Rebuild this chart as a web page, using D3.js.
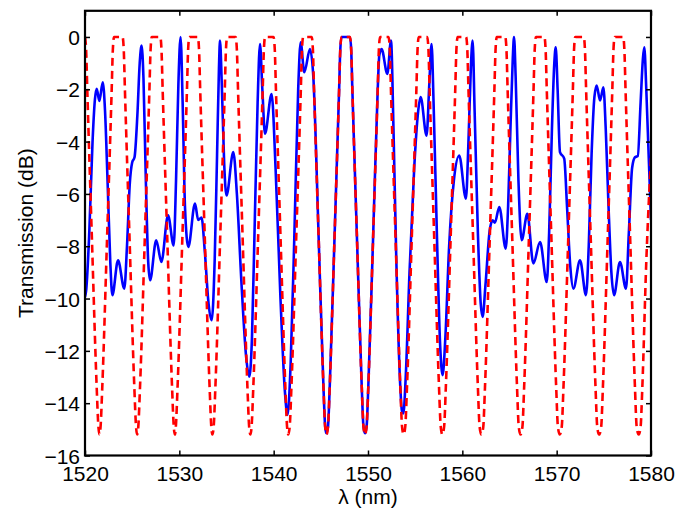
<!DOCTYPE html>
<html><head><meta charset="utf-8">
<script src="https://cdn.jsdelivr.net/npm/d3@7"></script>
<style>
body{margin:0;background:#fff}
text{font-family:"Liberation Sans",Arial,Helvetica,sans-serif}
</style>
</head><body>
<svg id="c" width="679" height="515"></svg>
<script>
const xTicks = [1520,1530,1540,1550,1560,1570,1580];
const yTicks = [-16,-14,-12,-10,-8,-6,-4,-2,0];
const xLabel = "λ (nm)";
const yLabel = "Transmission (dB)";

// blue solid curve: [wavelength nm, transmission dB]
const blueSeries = [
[1520.00,-9.94],[1520.12,-9.7],[1520.45,-7.5],[1520.8,-4.0],[1521.05,-2.4],[1521.24,-1.98],[1521.52,-2.45],[1521.88,-1.73],
[1522.12,-2.8],[1522.4,-5.6],[1522.68,-8.6],[1522.9,-9.87],[1523.5,-8.54],[1524.17,-9.62],[1524.45,-8.0],[1524.75,-5.6],
[1525.0,-4.8],[1525.25,-4.6],[1525.55,-3.0],[1525.8,-1.0],[1526.0,-0.33],[1526.2,-1.6],[1526.45,-5.5],[1526.7,-8.6],
[1526.9,-9.3],[1527.55,-7.77],[1528.1,-8.6],[1528.8,-6.82],[1529.4,-7.97],[1529.65,-5.5],[1529.9,-1.8],[1530.13,0.0],
[1530.35,-2.5],[1530.6,-6.5],[1530.95,-8.03],[1531.66,-6.37],[1532.0,-7.0],[1532.35,-6.9],[1532.7,-8.2],[1533.1,-10.2],
[1533.43,-10.83],[1533.75,-8.5],[1534.0,-4.5],[1534.2,-1.2],[1534.31,-0.14],[1534.5,-1.8],[1534.75,-4.8],[1535.0,-6.06],
[1535.72,-4.40],[1536.1,-6.0],[1536.6,-9.5],[1537.1,-12.3],[1537.42,-12.99],[1537.7,-11.5],[1538.0,-7.0],[1538.3,-2.5],
[1538.55,-0.27],[1538.8,-2.0],[1539.08,-3.70],[1539.78,-2.18],[1540.2,-5.0],[1540.7,-9.8],[1541.2,-13.6],[1541.47,-14.45],
[1541.8,-12.5],[1542.2,-7.5],[1542.6,-2.0],[1542.86,-0.2],[1543.25,-1.35],[1543.85,-0.46],[1544.2,-1.5],[1544.78,-7.8],
[1545.28,-13.4],[1545.46,-14.9],[1545.58,-15.15],[1545.76,-14.9],[1545.94,-13.4],[1546.44,-7.8],[1546.94,-2.0],[1547.06,-0.5],
[1547.19,0],[1548.09,0],[1548.22,-0.5],[1548.34,-2.0],[1548.84,-7.8],[1549.34,-13.4],[1549.52,-14.9],[1549.68,-15.15],
[1549.85,-14.9],[1550.03,-13.4],[1550.53,-7.8],[1551.03,-2.0],[1551.2,-0.7],[1551.44,-0.46],[1552.05,-1.41],[1552.44,-0.14],
[1552.7,-3.5],[1553.0,-8.5],[1553.4,-13.2],[1553.6,-14.3],[1553.75,-14.39],[1554.0,-13.0],[1554.4,-9.0],[1554.9,-5.0],
[1555.3,-2.9],[1555.58,-2.3],[1556.21,-3.77],[1556.5,-1.8],[1556.74,-0.27],[1556.95,-2.5],[1557.3,-7.5],[1557.65,-11.8],
[1557.91,-12.93],[1558.2,-11.5],[1558.6,-8.0],[1559.1,-5.5],[1559.67,-4.53],[1560.38,-6.18],[1560.65,-4.0],[1560.9,-1.2],
[1561.09,-0.14],[1561.3,-2.8],[1561.65,-7.5],[1561.95,-10.2],[1562.15,-10.7],[1562.45,-9.5],[1562.9,-7.4],[1563.21,-7.01],
[1563.45,-7.1],[1563.92,-6.5],[1564.6,-8.09],[1564.85,-6.5],[1565.1,-3.5],[1565.35,-0.8],[1565.48,0.0],[1565.65,-1.5],
[1565.95,-5.5],[1566.29,-7.77],[1566.89,-6.76],[1567.53,-8.66],[1568.24,-7.84],[1568.95,-9.37],[1569.2,-7.5],[1569.5,-3.5],
[1569.75,-1.0],[1569.9,-0.4],[1570.1,-2.0],[1570.35,-4.4],[1570.8,-4.65],[1571.1,-6.5],[1571.45,-8.8],[1571.77,-9.62],
[1572.48,-8.54],[1573.11,-9.87],[1573.4,-8.0],[1573.7,-4.5],[1574.0,-2.3],[1574.24,-1.86],[1574.6,-2.43],[1574.95,-1.92],
[1575.2,-3.5],[1575.5,-6.5],[1575.8,-9.0],[1576.08,-9.87],[1576.71,-8.6],[1577.35,-9.62],[1577.65,-7.5],[1578.0,-5.0],
[1578.3,-4.6],[1578.6,-4.55],[1578.9,-2.5],[1579.15,-0.8],[1579.29,-0.4],[1579.5,-2.0],[1579.75,-4.5],[1580.0,-7.0]
];

// red dashed curve: [wavelength nm, transmission dB]
const redSeries = [
[1520.00,0],[1520.12,-0.5],[1520.24,-2.0],[1520.74,-7.8],[1521.24,-13.4],[1521.42,-14.9],[1521.53,-15.2],
[1521.65,-14.9],[1521.83,-13.4],[1522.33,-7.8],[1522.83,-2.0],[1522.95,-0.5],[1523.08,0],[1523.98,0],[1524.11,-0.5],[1524.23,-2.0],[1524.73,-7.8],[1525.23,-13.4],[1525.41,-14.9],[1525.53,-15.2],
[1525.65,-14.9],[1525.83,-13.4],[1526.33,-7.8],[1526.83,-2.0],[1526.95,-0.5],[1527.08,0],[1527.98,0],[1528.11,-0.5],[1528.23,-2.0],[1528.73,-7.8],[1529.23,-13.4],[1529.41,-14.9],[1529.53,-15.2],
[1529.63,-14.9],[1529.81,-13.4],[1530.31,-7.8],[1530.81,-2.0],[1530.93,-0.5],[1531.06,0],[1531.96,0],[1532.09,-0.5],[1532.21,-2.0],[1532.71,-7.8],[1533.21,-13.4],[1533.39,-14.9],[1533.5,-15.2],
[1533.64,-14.9],[1533.82,-13.4],[1534.32,-7.8],[1534.82,-2.0],[1534.94,-0.5],[1535.07,0],[1535.97,0],[1536.10,-0.5],[1536.22,-2.0],[1536.72,-7.8],[1537.22,-13.4],[1537.40,-14.9],[1537.53,-15.2],
[1537.66,-14.9],[1537.84,-13.4],[1538.34,-7.8],[1538.84,-2.0],[1538.96,-0.5],[1539.09,0],[1539.99,0],[1540.12,-0.5],[1540.24,-2.0],[1540.74,-7.8],[1541.24,-13.4],[1541.42,-14.9],[1541.55,-15.2],
[1541.70,-14.9],[1541.88,-13.4],[1542.38,-7.8],[1542.88,-2.0],[1543.00,-0.5],[1543.13,0],[1544.03,0],[1544.16,-0.5],[1544.28,-2.0],[1544.78,-7.8],[1545.28,-13.4],[1545.46,-14.9],[1545.6,-15.2],
[1545.76,-14.9],[1545.94,-13.4],[1546.44,-7.8],[1546.94,-2.0],[1547.06,-0.5],[1547.19,0],[1548.09,0],[1548.22,-0.5],[1548.34,-2.0],[1548.84,-7.8],[1549.34,-13.4],[1549.52,-14.9],[1549.68,-15.2],
[1549.85,-14.9],[1550.03,-13.4],[1550.53,-7.8],[1551.03,-2.0],[1551.15,-0.5],[1551.28,0],[1552.18,0],[1552.31,-0.5],[1552.43,-2.0],[1552.93,-7.8],[1553.43,-13.4],[1553.61,-14.9],[1553.77,-15.2],
[1553.95,-14.9],[1554.13,-13.4],[1554.63,-7.8],[1555.13,-2.0],[1555.25,-0.5],[1555.38,0],[1556.28,0],[1556.41,-0.5],[1556.53,-2.0],[1557.03,-7.8],[1557.53,-13.4],[1557.71,-14.9],[1557.88,-15.2],
[1558.07,-14.9],[1558.25,-13.4],[1558.75,-7.8],[1559.25,-2.0],[1559.37,-0.5],[1559.50,0],[1560.40,0],[1560.53,-0.5],[1560.65,-2.0],[1561.15,-7.8],[1561.65,-13.4],[1561.83,-14.9],[1562.02,-15.2],
[1562.22,-14.9],[1562.40,-13.4],[1562.90,-7.8],[1563.40,-2.0],[1563.52,-0.5],[1563.65,0],[1564.55,0],[1564.68,-0.5],[1564.80,-2.0],[1565.30,-7.8],[1565.80,-13.4],[1565.98,-14.9],[1566.17,-15.2],
[1566.37,-14.9],[1566.55,-13.4],[1567.05,-7.8],[1567.55,-2.0],[1567.67,-0.5],[1567.80,0],[1568.70,0],[1568.83,-0.5],[1568.95,-2.0],[1569.45,-7.8],[1569.95,-13.4],[1570.13,-14.9],[1570.33,-15.2],
[1570.54,-14.9],[1570.72,-13.4],[1571.22,-7.8],[1571.72,-2.0],[1571.84,-0.5],[1571.97,0],[1572.87,0],[1573.00,-0.5],[1573.12,-2.0],[1573.62,-7.8],[1574.12,-13.4],[1574.30,-14.9],[1574.5,-15.2],
[1574.72,-14.9],[1574.90,-13.4],[1575.40,-7.8],[1575.90,-2.0],[1576.02,-0.5],[1576.15,0],[1577.05,0],[1577.18,-0.5],[1577.30,-2.0],[1577.80,-7.8],[1578.30,-13.4],[1578.48,-14.9],[1578.7,-15.2],
[1578.9,-14.9],[1579.08,-13.4],[1579.5,-8.6],[1580.0,-4.6]
];

const W = 679, H = 515;
const L = 85, R = 651, T = 10.8, B = 455.5;
const x = d3.scaleLinear().domain([1520,1580]).range([L,R]);
const y = d3.scaleLinear().domain([-16,1]).range([B,T]);

const svg = d3.select("#c");
svg.append("rect").attr("width",W).attr("height",H).attr("fill","#fff");
svg.append("defs").append("clipPath").attr("id","clip")
  .append("rect").attr("x",L).attr("y",T).attr("width",R-L).attr("height",B-T);

const line = d3.line().x(d=>x(d[0])).y(d=>y(d[1])).curve(d3.curveMonotoneX);
const g = svg.append("g").attr("clip-path","url(#clip)");
g.append("path").datum(blueSeries).attr("d",line)
  .attr("fill","none").attr("stroke","#0000ff").attr("stroke-width",2.6).attr("stroke-linejoin","round");
g.append("path").datum(redSeries).attr("d",line)
  .attr("fill","none").attr("stroke","#ff0000").attr("stroke-width",2.6).attr("stroke-dasharray","8,5");

const fmt = d => (d<0 ? "\u2212"+Math.abs(d) : String(d));
const tickLen = 5;
const axB = svg.append("g").attr("transform",`translate(0,${B})`)
  .call(d3.axisBottom(x).tickValues(xTicks).tickSize(-tickLen).tickPadding(11).tickFormat(d=>String(d)));
const axT = svg.append("g").attr("transform",`translate(0,${T})`)
  .call(d3.axisTop(x).tickValues(xTicks).tickSize(-tickLen).tickFormat(""));
const axL = svg.append("g").attr("transform",`translate(${L},0)`)
  .call(d3.axisLeft(y).tickValues(yTicks).tickSize(-tickLen).tickPadding(5).tickFormat(fmt));
const axR = svg.append("g").attr("transform",`translate(${R},0)`)
  .call(d3.axisRight(y).tickValues(yTicks).tickSize(-tickLen).tickFormat(""));
[axB,axT,axL,axR].forEach(a=>{
  a.select(".domain").remove();
  a.selectAll(".tick line").attr("stroke","#000").attr("stroke-width",1.5);
  a.selectAll("text").attr("fill","#000").style("font-size","21px")
    .style("font-family",'"Liberation Sans",Arial,Helvetica,sans-serif');
});
axL.selectAll("text").attr("dy","0.36em");

svg.append("rect").attr("x",L).attr("y",T).attr("width",R-L).attr("height",B-T)
  .attr("fill","none").attr("stroke","#000").attr("stroke-width",2.2);

svg.append("text").attr("x",(L+R)/2).attr("y",504).attr("text-anchor","middle")
  .style("font-size","21px").text(xLabel);
svg.append("text").attr("transform",`translate(33,${(T+B)/2}) rotate(-90)`)
  .attr("text-anchor","middle").style("font-size","21px").text(yLabel);
</script>
</body></html>
